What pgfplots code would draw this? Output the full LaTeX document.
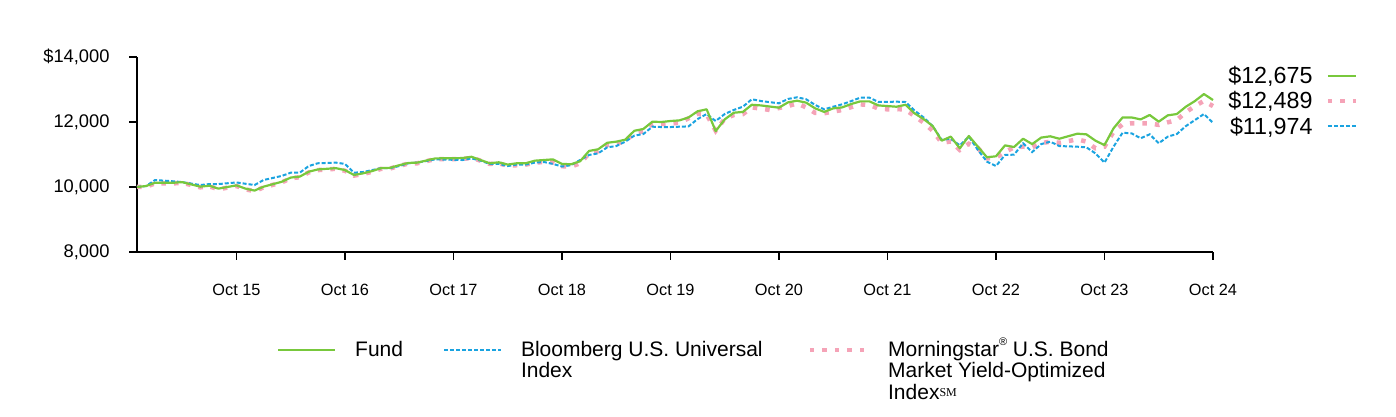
\documentclass[border=0pt]{standalone}
\usepackage{pgfplots}
\usepackage{pgfplotstable}
\pgfplotsset{compat=1.18}
\usepackage{fontspec}
\setmainfont{Liberation Sans}
\newfontfamily\serifsm{Liberation Serif}
\definecolor{fundgreen}{HTML}{78C83C}
\definecolor{bbblue}{HTML}{1AA3E0}
\definecolor{mspink}{HTML}{F5A3B7}

\pgfplotstableread{
m v
0 10000
1 10030
2 10130
4 10130
5 10150
7 10010
8 10040
9 9950
11 10050
12 9950
13 9890
14 10010
16 10160
17 10290
18 10320
19 10470
20 10540
22 10580
23 10520
24 10370
25 10420
26 10490
27 10580
28 10590
29 10670
30 10740
31 10750
33 10880
36 10890
37 10930
38 10830
39 10730
40 10760
41 10690
42 10730
43 10730
44 10810
46 10850
47 10710
48 10700
49 10790
50 11110
51 11160
52 11360
53 11395
54 11455
55 11730
56 11785
57 12010
58 12000
59 12030
60 12050
61 12140
62 12330
63 12390
64 11720
65 12080
66 12285
67 12310
68 12530
69 12510
71 12440
72 12605
73 12655
74 12595
75 12420
76 12310
77 12420
78 12450
79 12555
80 12635
81 12635
82 12510
84 12470
85 12530
86 12265
87 12090
88 11875
89 11425
90 11550
91 11190
92 11570
93 11240
94 10915
95 10945
96 11280
97 11230
98 11485
99 11320
100 11520
101 11560
102 11485
104 11640
105 11620
106 11425
107 11290
108 11805
109 12140
110 12140
111 12080
112 12215
113 12010
114 12205
115 12245
116 12470
117 12645
118 12860
119 12675
}\fundtable

\pgfplotstableread{
m v
0 10000
1 10030
2 10215
4 10175
5 10150
7 10060
8 10090
9 10090
11 10140
12 10100
13 10060
14 10215
16 10340
17 10440
18 10440
19 10645
20 10730
22 10750
23 10710
24 10440
25 10460
26 10520
27 10580
28 10580
29 10645
30 10730
31 10750
33 10850
36 10830
37 10880
38 10810
39 10710
40 10710
41 10645
42 10690
43 10690
44 10750
45 10770
46 10710
47 10630
48 10670
49 10830
50 10985
51 11035
52 11220
53 11260
54 11395
55 11580
56 11630
57 11855
58 11845
59 11845
61 11865
62 12090
63 12245
64 12030
65 12245
66 12370
67 12470
68 12700
69 12645
71 12575
72 12710
73 12760
74 12700
75 12525
76 12390
77 12470
78 12545
79 12645
80 12750
81 12750
82 12615
84 12625
85 12615
86 12350
87 12140
88 11875
89 11450
90 11485
91 11280
92 11550
93 11140
94 10780
95 10645
96 10985
97 10995
98 11345
99 11075
100 11320
101 11395
102 11260
104 11240
105 11220
106 11035
107 10750
108 11240
109 11670
110 11650
111 11500
112 11620
113 11345
114 11550
115 11630
116 11875
117 12060
118 12245
119 11974
}\bbtable

\pgfplotstableread{
m v
0 10000
1 10010
2 10110
4 10110
5 10130
7 9990
8 10020
9 9930
11 10030
12 9930
13 9870
14 9990
16 10140
17 10270
18 10300
19 10450
20 10520
22 10560
23 10500
24 10350
25 10400
26 10470
27 10560
28 10570
29 10650
30 10720
31 10730
33 10860
36 10860
37 10900
38 10810
39 10710
40 10730
41 10650
42 10670
43 10690
44 10750
45 10770
46 10760
47 10640
48 10625
49 10730
50 11035
51 11100
52 11290
53 11330
54 11420
55 11650
56 11720
57 11940
58 11940
59 11950
60 11980
61 12115
62 12250
63 12230
64 11730
65 12100
66 12215
67 12240
68 12450
69 12410
70 12370
72 12490
73 12575
74 12450
75 12280
76 12270
77 12320
78 12370
79 12460
80 12540
81 12530
82 12410
83 12390
84 12400
85 12380
86 12180
87 11980
88 11730
89 11360
90 11400
91 11140
92 11330
93 11200
94 10880
95 10900
96 11080
97 11220
98 11240
99 11220
100 11350
101 11395
102 11360
104 11465
105 11395
106 11190
107 11240
108 11700
109 11930
110 11960
111 11960
112 11960
113 11910
114 11990
115 12060
116 12300
117 12490
118 12650
119 12489
}\mstable

\pgfplotsset{
  fundstyle/.style={fundgreen, line width=2.2bp, line join=round, solid},
  bbstyle/.style={bbblue, line width=2bp, dash pattern=on 4bp off 2bp},
  msstyle/.style={mspink, line width=4.5bp, dash pattern=on 4.5bp off 8bp},
}

\begin{document}
\begin{tikzpicture}
\useasboundingbox (0,0) rectangle (1396bp,417bp);
\begin{axis}[
  at={(137bp,165bp)}, anchor=south west,
  width=1076bp, height=195bp, scale only axis,
  xmin=0, xmax=119, ymin=8000, ymax=14000,
  axis x line*=bottom, axis y line*=left,
  axis line style={line width=1.3bp, -, black},
  scaled y ticks=false, scaled x ticks=false,
  xtick={11,23,35,47,59,71,83,95,107,119},
  xticklabels={Oct 15,Oct 16,Oct 17,Oct 18,Oct 19,Oct 20,Oct 21,Oct 22,Oct 23,Oct 24},
  ytick={8000,10000,12000,14000},
  yticklabels={{8,000},{10,000},{12,000},{\$14,000}},
  tick align=outside, major tick length=8bp,
  tick style={line width=1.3bp, black},
  yticklabel style={font=\fontsize{18.3bp}{18bp}\selectfont, xshift=-16bp},
  xticklabel style={font=\fontsize{16.3bp}{17bp}\selectfont, yshift=-21bp},
  clip=false,
]
\addplot[msstyle] table[x=m,y=v] {\mstable};
\addplot[bbstyle] table[x=m,y=v] {\bbtable};
\addplot[fundstyle] table[x=m,y=v] {\fundtable};
\end{axis}

% bottom legend
\begin{axis}[
  at={(0bp,0bp)}, anchor=south west,
  width=1396bp, height=417bp, scale only axis,
  xmin=0, xmax=1, ymin=0, ymax=1, hide axis,
  legend columns=3,
  legend cell align=left,
  legend image code/.code={\draw[#1] (0bp,6bp) -- (57bp,6bp);},
  legend style={at={(277/1396,79/417)}, anchor=north west, draw=none, fill=none,
    inner sep=0pt, outer sep=0pt,
    font=\fontsize{21bp}{21bp}\selectfont,
    nodes={inner sep=0pt, anchor=base west},
    /tikz/every odd column/.append style={column sep=19bp},
    /tikz/every even column/.append style={column sep=40bp}},
]
\addlegendimage{fundstyle}
\addlegendentry{\begin{tabular}[t]{@{}l@{}}Fund\end{tabular}}
\addlegendimage{bbstyle}
\addlegendentry{\begin{tabular}[t]{@{}l@{\hspace{5bp}}}Bloomberg U.S. Universal\\Index\end{tabular}}
\addlegendimage{msstyle}
\addlegendentry{\begin{tabular}[t]{@{}l@{}}Morningstar\raisebox{0.5em}{\fontsize{11bp}{11bp}\selectfont ®} U.S. Bond\\Market Yield-Optimized\\Index\raisebox{0.15em}{\serifsm\fontsize{12bp}{12bp}\selectfont SM}\end{tabular}}
\end{axis}

% right legend
\begin{axis}[
  at={(0bp,0bp)}, anchor=south west,
  width=1396bp, height=417bp, scale only axis,
  xmin=0, xmax=1, ymin=0, ymax=1, hide axis,
  legend plot pos=right,
  legend cell align=right,
  legend image code/.code={\draw[#1] (0bp,8bp) -- (28bp,8bp);},
  legend style={at={(1358/1396,350.5/417)}, anchor=north east, draw=none, fill=none,
    inner sep=0pt, outer sep=0pt,
    font=\fontsize{23.3bp}{27bp}\selectfont,
    nodes={inner sep=0pt, anchor=base east},
    row sep=6.5bp,
    /tikz/every odd column/.append style={column sep=13bp}},
]
\addlegendimage{fundstyle}
\addlegendentry{\$12,675}
\addlegendimage{msstyle}
\addlegendentry{\$12,489}
\addlegendimage{bbstyle}
\addlegendentry{\$11,974}
\end{axis}
\end{tikzpicture}
\end{document}
